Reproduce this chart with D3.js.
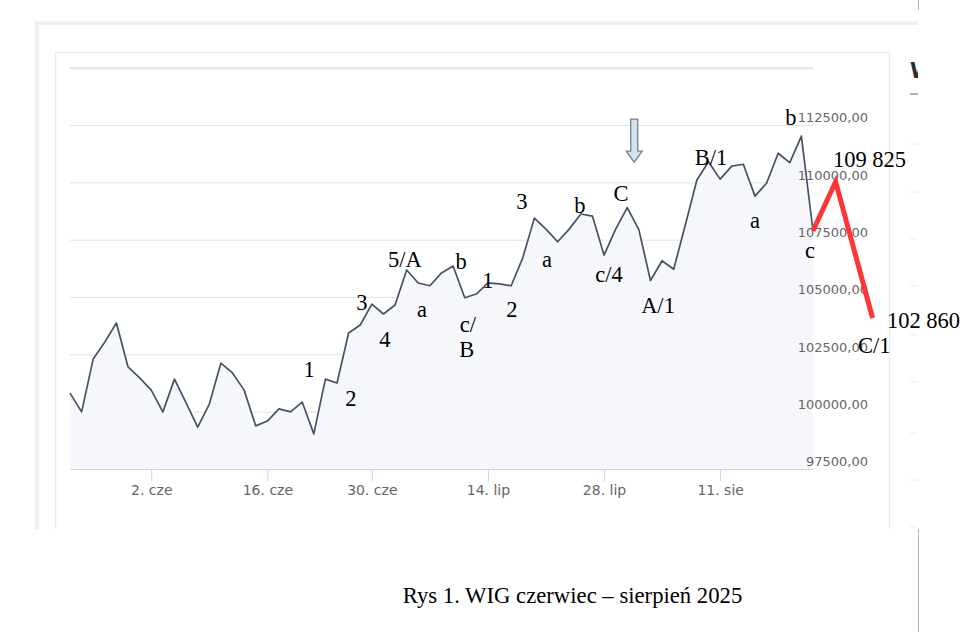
<!DOCTYPE html>
<html>
<head>
<meta charset="utf-8">
<script src="https://cdn.jsdelivr.net/npm/d3@7/dist/d3.min.js"></script>
<style>
  body { margin: 0; background: #fff; }
  svg { display: block; }
</style>
</head>
<body>
<div id="chart-area"></div>
<script>
// WIG daily closes, 22 May - 22 Aug 2025
const dates = [
  '2025-05-22','2025-05-23','2025-05-26','2025-05-27','2025-05-28','2025-05-29','2025-05-30',
  '2025-06-02','2025-06-03','2025-06-04','2025-06-05','2025-06-06','2025-06-09','2025-06-10',
  '2025-06-11','2025-06-12','2025-06-13','2025-06-16','2025-06-17','2025-06-18','2025-06-20',
  '2025-06-23','2025-06-24','2025-06-25','2025-06-26','2025-06-27','2025-06-30','2025-07-01',
  '2025-07-02','2025-07-03','2025-07-04','2025-07-07','2025-07-08','2025-07-09','2025-07-10',
  '2025-07-11','2025-07-14','2025-07-15','2025-07-16','2025-07-17','2025-07-18','2025-07-21',
  '2025-07-22','2025-07-23','2025-07-24','2025-07-25','2025-07-28','2025-07-29','2025-07-30',
  '2025-07-31','2025-08-01','2025-08-04','2025-08-05','2025-08-06','2025-08-07','2025-08-08',
  '2025-08-11','2025-08-12','2025-08-13','2025-08-14','2025-08-18','2025-08-19','2025-08-20',
  '2025-08-21','2025-08-22'
];
const closes = [
  100810, 99990,102300,103040,103870,101950,101470,
  100940, 99990,101420,100380, 99330,100330,102120,
  101690,100940, 99380, 99590,100120, 99990,100420,
   99030,101420,101250,103430,103780,104690,104260,
  104650,106180,105610,105490,106050,106350,104970,
  105130,105620,105570,105490,106710,108440,107960,
  107410,107960,108620,108530,106830,107960,108900,
  107940,105720,106580,106210,108140,110100,110900,
  110140,110710,110790,109400,109960,111270,110860,
  112020,107890
];

const tickDates = ['2025-06-02','2025-06-16','2025-06-30','2025-07-14','2025-07-28','2025-08-11'];
const tickLabels = ['2. cze','16. cze','30. cze','14. lip','28. lip','11. sie'];
const yTicks = [97500,100000,102500,105000,107500,110000,112500,115000];

// hand drawn forecast (red) : index on the session axis, index level
const projIdx = [64, 65.95, 69.13];
const projVal = [107890, 110026, 104084];

// wave labels written over the chart
const waveLabels = [
  {t:'1', i:20.59, v:101524}, {t:'2', i:24.2, v:100247}, {t:'3', i:25.15, v:104432},
  {t:'4', i:27.13, v:102841}, {t:'5/A', i:28.85, v:106307}, {t:'a', i:30.32, v:104127},
  {t:'b', i:33.68, v:106220}, {t:'c/', i:34.28, v:103486}, {t:'B', i:34.17, v:102396},
  {t:'1', i:36.0, v:105392}, {t:'2', i:38.07, v:104127}, {t:'3', i:38.93, v:108836},
  {t:'a', i:41.09, v:106307}, {t:'b', i:43.93, v:108662}, {t:'c/4', i:46.43, v:105666},
  {t:'C', i:47.46, v:109207}, {t:'A/1', i:50.65, v:104302}, {t:'B/1', i:55.21, v:110754},
  {t:'a', i:59.0, v:108008}, {t:'b', i:62.1, v:112498}, {t:'c', i:63.74, v:106700},
  {t:'109 825', i:68.87, v:110667}, {t:'102 860', i:73.52, v:103648}, {t:'C/1', i:69.28, v:102558}
];
const arrowAt = {i:48.6, v:110885};

const W = 979, H = 632;
const svg = d3.select('#chart-area').append('svg')
  .attr('width', W).attr('height', H);

// screenshot frame
const shot = svg.append('g');
shot.append('rect').attr('x',35).attr('y',21.5).attr('width',883).attr('height',3.5).attr('fill','#efefef');
shot.append('rect').attr('x',35).attr('y',21.5).attr('width',4).attr('height',508).attr('fill','#efefef');
shot.append('path').attr('d','M55.5,529V52.5H889.5V529')
  .attr('fill','none').attr('stroke','#ebebeb').attr('stroke-width',1.5);
shot.append('line').attr('x1',918.5).attr('x2',918.5).attr('y1',0).attr('y2',10)
  .attr('stroke','#b5b5b5');
shot.append('line').attr('x1',918.5).attr('x2',918.5).attr('y1',529).attr('y2',H)
  .attr('stroke','#b5b5b5');
svg.append('clipPath').attr('id','side').append('rect')
  .attr('x',900).attr('y',0).attr('width',18).attr('height',530);
const side = shot.append('g').attr('clip-path','url(#side)');
side.append('text').attr('x',910).attr('y',78).attr('font-family','DejaVu Sans')
  .attr('font-weight',700).attr('font-size','21px').attr('fill','#2b2b2b').text('W');
side.append('line').attr('x1',910).attr('x2',918).attr('y1',94).attr('y2',94)
  .attr('stroke','#9a9a9a').attr('stroke-width',1.5);
side.selectAll('.sep').data([144,192,239,286,335,382,433,480,527]).enter()
  .append('line').attr('x1',910).attr('x2',918).attr('y1',d=>d).attr('y2',d=>d)
  .attr('stroke','#ececec');

const x = d3.scaleLinear().domain([0, dates.length-1]).range([70, 813]);
const y = d3.scaleLinear().domain([97500, 115000]).range([469, 67.7]);

const g = svg.append('g');

// grid lines
g.append('g')
  .attr('transform','translate(70,0)')
  .call(d3.axisLeft(y).tickValues(yTicks.slice(1)).tickSize(-743).tickFormat(''))
  .call(s=>s.select('.domain').remove())
  .call(s=>s.selectAll('line').attr('stroke','#e3e3e3').attr('stroke-width',d=>d===115000?2:1));

// area + line
const pts = closes.map((v,i)=>[i,v]);
g.append('path').datum(pts)
  .attr('fill','#f5f7fa')
  .attr('d', d3.area().x(d=>x(d[0])).y0(y(97500)).y1(d=>y(d[1])));
g.append('path').datum(pts)
  .attr('fill','none').attr('stroke','#465366').attr('stroke-width',1.7)
  .attr('stroke-linejoin','round')
  .attr('d', d3.line().x(d=>x(d[0])).y(d=>y(d[1])));

// x axis
const xAxisGroup = g.append('g')
  .attr('transform','translate(0,'+y(97500)+')')
  .call(d3.axisBottom(x)
    .tickValues(tickDates.map(d=>dates.indexOf(d)))
    .tickFormat((d,i)=>tickLabels[i])
    .tickSize(12.5).tickSizeOuter(0).tickPadding(3.5));
xAxisGroup.select('.domain').attr('stroke','#ccd6eb');
xAxisGroup.selectAll('line').attr('stroke','#ccd6eb');
xAxisGroup.selectAll('text').attr('fill','#666').attr('font-size','14px')
  .attr('font-family','DejaVu Sans');

// y labels on the right
const yAxisGroup = g.append('g')
  .attr('transform','translate(868,0)')
  .call(d3.axisLeft(y).tickValues(yTicks.slice(0,-1)).tickSize(0).tickPadding(0)
    .tickFormat(d=>d.toFixed(2).replace('.',',')));
yAxisGroup.select('.domain').remove();
yAxisGroup.selectAll('text').attr('fill','#666').attr('font-size','13px')
  .attr('font-family','DejaVu Sans').attr('dy','-3.3px');

// forecast drawn in red
g.append('path').datum(projIdx.map((d,i)=>[d,projVal[i]]))
  .attr('fill','none').attr('stroke','#ff3535').attr('stroke-width',5)
  .attr('d', d3.line().x(d=>x(d[0])).y(d=>y(d[1])));

// down arrow
const ax = x(arrowAt.i), ay = y(arrowAt.v);
g.append('path')
  .attr('d','M'+(ax-3.5)+','+(ay-43)+'h7v32h4.5l-8,11l-8,-11h4.5z')
  .attr('fill','#cfe3f3').attr('stroke','#7f7f7f').attr('stroke-width',1.3);

// wave labels
g.selectAll('.wave').data(waveLabels).enter()
  .append('text').attr('class','wave')
  .attr('x',d=>x(d.i)).attr('y',d=>y(d.v))
  .attr('text-anchor','middle')
  .attr('font-family','"Times New Roman", "Liberation Serif", serif')
  .attr('font-size','22.5px').attr('fill','#000')
  .text(d=>d.t);

// caption
svg.append('text')
  .attr('x',572.5).attr('y',603.3).attr('text-anchor','middle')
  .attr('font-family','"Times New Roman", "Liberation Serif", serif')
  .attr('font-size','22.7px').attr('fill','#000')
  .text('Rys 1. WIG czerwiec – sierpień 2025');
</script>
</body>
</html>
